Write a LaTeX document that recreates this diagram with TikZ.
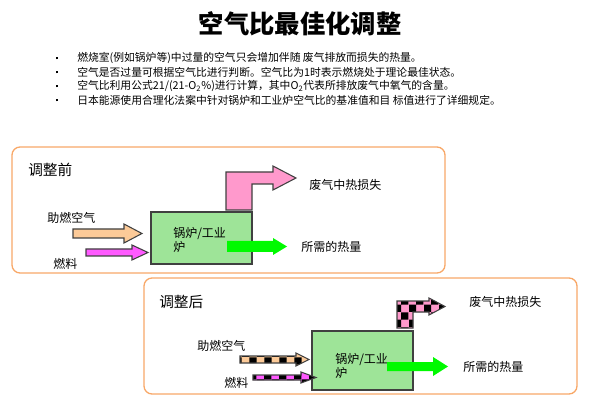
\documentclass[tikz,border=0pt]{standalone}
\usepackage{fontspec}
\setmainfont{Noto Sans CJK SC}
\usetikzlibrary{patterns}

\definecolor{frameorange}{RGB}{248,168,104}
\definecolor{arrowgray}{RGB}{64,64,64}
\definecolor{losspink}{RGB}{255,153,204}
\definecolor{airpeach}{RGB}{252,202,152}
\definecolor{fuelmagenta}{RGB}{255,90,255}
\definecolor{heatgreen}{RGB}{0,250,0}
\definecolor{boilergreen}{RGB}{158,228,152}

\tikzset{
  stagebox/.style={draw=frameorange,line width=1pt,rounded corners=6pt},
  boilerbox/.style={draw=arrowgray,fill=boilergreen,line width=0.8pt},
  plainarrow/.style={draw=arrowgray,line width=0.8pt,fill=#1},
  checkarrow/.style={draw=arrowgray,line width=0.8pt,preaction={fill=#1},pattern=checkerboard,pattern color=black},
  label/.style={anchor=west,inner sep=0.75pt,font=\fontsize{9}{10.5}\selectfont},
  bulletline/.style={anchor=west,inner sep=0.75pt,font=\fontsize{8.1}{9}\selectfont}
}

\begin{document}
\begin{tikzpicture}[x=0.75pt,y=0.75pt,yscale=-1,xscale=1]
\useasboundingbox (0,0) rectangle (600,417);

% Title
\node (title) at (300,24) [inner sep=0.75pt,font=\fontsize{19}{22}\selectfont\bfseries] {空气比最佳化调整};
% Bullets
\foreach \n/\yy in {1/58,2/72,3/86,4/100}
  \node (dot\n) at (57,\yy) [inner sep=0pt] {\rule{2.2pt}{2.2pt}};
\node (b1) at (76,58) [bulletline] {燃烧室(例如锅炉等)中过量的空气只会增加伴随 废气排放而损失的热量。};
\node (b2) at (76,72) [bulletline] {空气是否过量可根据空气比进行判断。空气比为1时表示燃烧处于理论最佳状态。};
\node (b3) at (76,86) [bulletline] {空气比利用公式21/(21-O\textsubscript{2}\%)进行计算，其中O\textsubscript{2}代表所排放废气中氧气的含量。};
\node (b4) at (76,100) [bulletline] {日本能源使用合理化法案中针对锅炉和工业炉空气比的基准值和目 标值进行了详细规定。};

%Shape: Rounded Rect (before)
\draw [stagebox] (12,147) rectangle (445,273);
% Text Node
\node (before) at (27,170) [anchor=west,inner sep=0.75pt,font=\fontsize{11}{13}\selectfont] {调整前};
%Shape: Rectangle
\draw [boilerbox] (151,212) rectangle (252,264);
\node (boilerA) at (172,240) [anchor=west,inner sep=0.75pt,align=left,font=\fontsize{9}{10.5}\selectfont] {锅炉/工业\\炉};
%Shape: Bent Arrow
\draw [plainarrow=losspink] (226,210) -- (226,172) -- (273,172) -- (273,166) -- (296,178) -- (273,190) -- (273,184) -- (252,184) -- (252,210) -- cycle;
%Shape: Right Arrow
\fill [heatgreen] (227,241) -- (273,241) -- (273,238) -- (287,246.5) -- (273,255) -- (273,252) -- (227,252) -- cycle;
%Shape: Right Arrow
\draw [plainarrow=airpeach] (73,229) -- (124,229) -- (124,224) -- (142,233.5) -- (124,243) -- (124,238) -- (73,238) -- cycle;
%Shape: Right Arrow
\draw [plainarrow=fuelmagenta] (86,249) -- (132,249) -- (132,245) -- (148,252.5) -- (132,260) -- (132,256) -- (86,256) -- cycle;
% Text Node
\node (lossA) at (308,185) [label] {废气中热损失};
\node (heatA) at (300,247) [label] {所需的热量};
\node (airA) at (46,218) [label] {助燃空气};
\node (fuelA) at (52,264) [label] {燃料};

%Shape: Rounded Rect (after)
\draw [stagebox] (144,278) rectangle (577,394);
% Text Node
\node (after) at (158,302) [anchor=west,inner sep=0.75pt,font=\fontsize{11}{13}\selectfont] {调整后};
%Shape: Rectangle
\draw [boilerbox] (312,331) rectangle (413,390);
\node (boilerB) at (334,366) [anchor=west,inner sep=0.75pt,align=left,font=\fontsize{9}{10.5}\selectfont] {锅炉/工业\\炉};
%Shape: Bent Arrow
\draw [checkarrow=losspink] (397,328) -- (397,301) -- (429,301) -- (429,298) -- (445,306.5) -- (429,315) -- (429,312) -- (413,312) -- (413,328) -- cycle;
%Shape: Right Arrow
\fill [heatgreen] (387,362) -- (433,362) -- (433,357) -- (448,366.5) -- (433,376) -- (433,371) -- (387,371) -- cycle;
%Shape: Right Arrow
\draw [checkarrow=airpeach] (240,356) -- (296,356) -- (296,353) -- (309,359.5) -- (296,366) -- (296,363) -- (240,363) -- cycle;
%Shape: Right Arrow
\draw [checkarrow=fuelmagenta] (253,375) -- (301,375) -- (301,372) -- (316,377.5) -- (301,383) -- (301,380) -- (253,380) -- cycle;
% Text Node
\node (lossB) at (468,302) [label] {废气中热损失};
\node (heatB) at (462,367) [label] {所需的热量};
\node (airB) at (196,346) [label] {助燃空气};
\node (fuelB) at (223,383) [label] {燃料};
\end{tikzpicture}
\end{document}
